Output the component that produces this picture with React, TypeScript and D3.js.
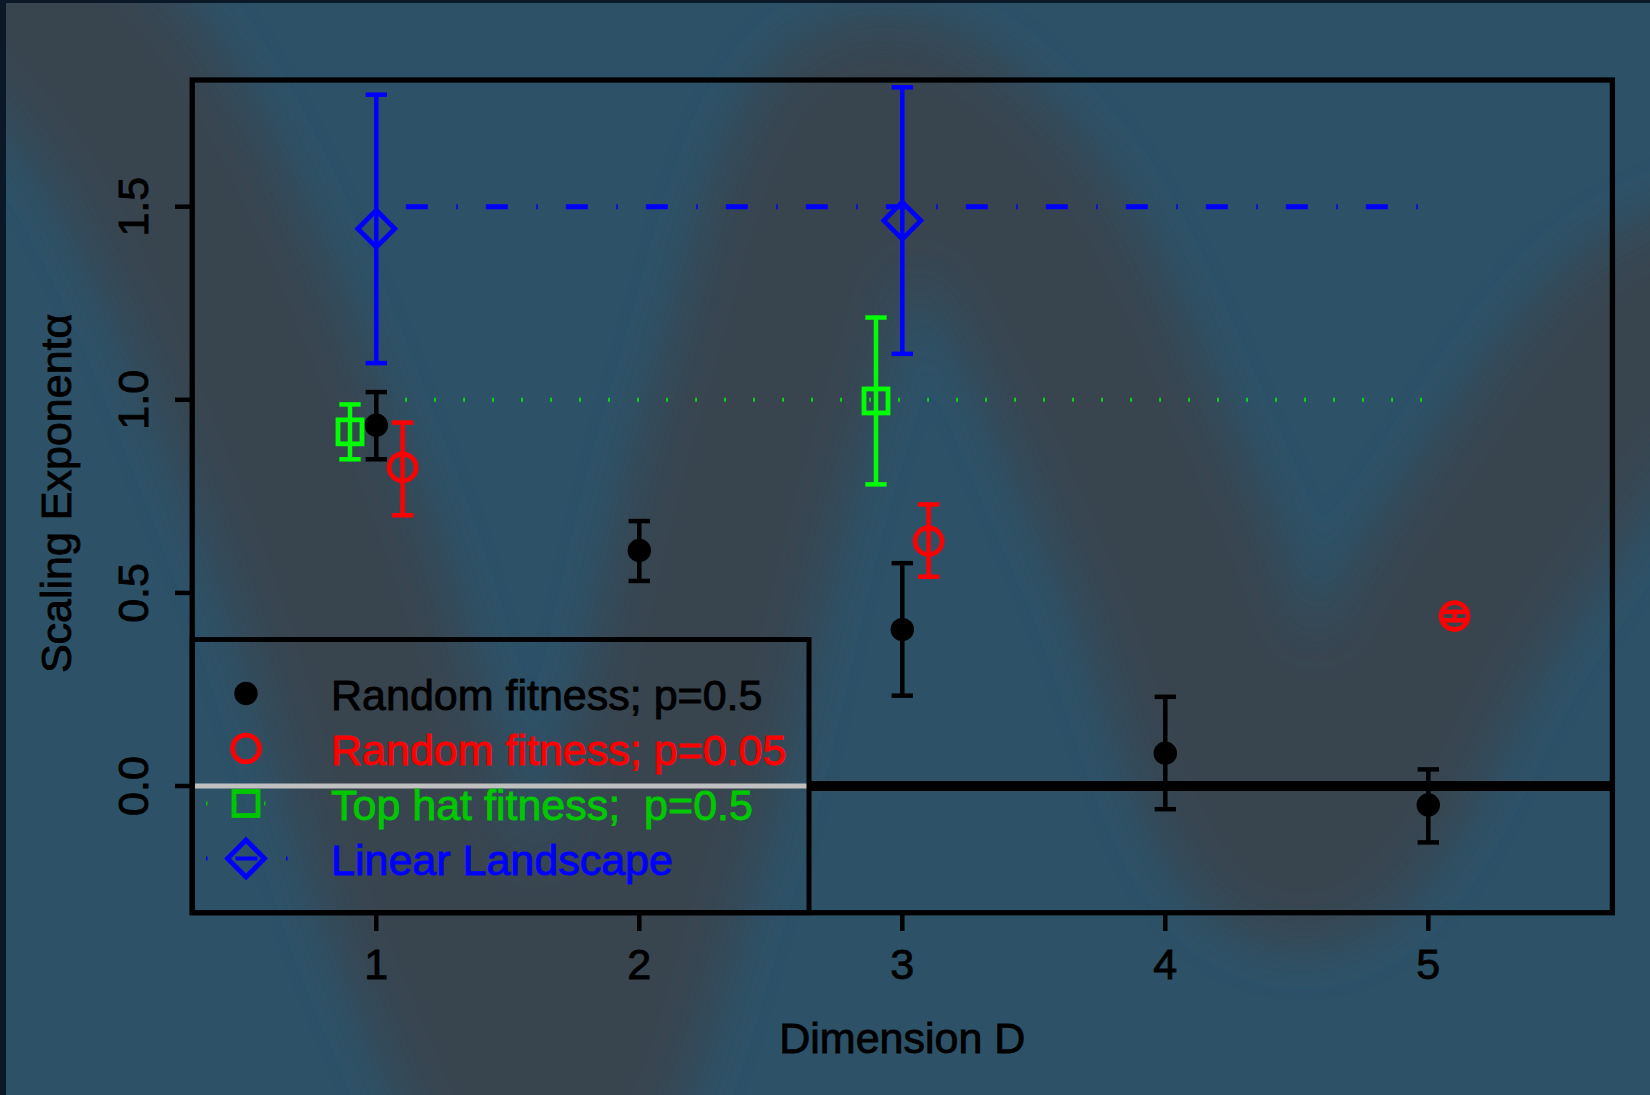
import React from 'react';
import * as d3 from 'd3';

const W = 1650;
const H = 1095;

// x axis ticks (Dimension D) and y axis ticks
const dimTicks = [1, 2, 3, 4, 5];
const alphaTicks = [0, 0.5, 1.0, 1.5];

// Random fitness; p=0.5
const randomX = [1, 2, 3, 4, 5];
const randomY = [0.934, 0.61, 0.405, 0.085, -0.049];
const randomLo = [0.846, 0.531, 0.234, -0.06, -0.146];
const randomHi = [1.02, 0.686, 0.577, 0.231, 0.043];

// Random fitness; p=0.05
const sparseX = [1.1, 3.1, 5.1];
const sparseY = [0.825, 0.634, 0.44];
const sparseLo = [0.701, 0.542, 0.429];
const sparseHi = [0.941, 0.729, 0.451];

// Top hat fitness; p=0.5
const topHatX = [0.9, 2.9];
const topHatY = [0.917, 0.997];
const topHatLo = [0.846, 0.781];
const topHatHi = [0.988, 1.213];

// Linear Landscape
const linearX = [1, 3];
const linearY = [1.443, 1.464];
const linearLo = [1.095, 1.119];
const linearHi = [1.79, 1.809];

// theoretical reference levels, drawn from D=1 to D=5
const refSpan = [1, 5];
const topHatRef = 1.0;
const linearRef = 1.5;

const legendLabels = [
  'Random fitness; p=0.5',
  'Random fitness; p=0.05',
  'Top hat fitness;  p=0.5',
  'Linear Landscape',
];

const FONT = '"Liberation Sans", Arial, Helvetica, sans-serif';
const GREEN = '#00ff00';
const LEGEND_GREEN = '#00c800';

// blurred wave behind the plot (decoration only)
const wave: [number, number][] = [
  [-53, -84], [126, 105], [316, 526], [452, 947], [547, 1115], [652, 842],
  [758, 421], [873, 126], [1000, 210], [1158, 526], [1300, 840], [1470, 580],
  [1650, 340], [1736, 300],
];

type Shape = 'dot' | 'circle' | 'square' | 'diamond';

function Marker({ shape, cx, cy, color }: { shape: Shape; cx: number; cy: number; color: string }) {
  if (shape === 'dot') return <circle cx={cx} cy={cy} r={11.7} fill={color} />;
  if (shape === 'circle')
    return <circle cx={cx} cy={cy} r={13.4} fill="none" stroke={color} strokeWidth={4.8} />;
  if (shape === 'square')
    return <rect x={cx - 12} y={cy - 12} width={24} height={24} fill="none" stroke={color} strokeWidth={4.8} />;
  const d = 18.5;
  return (
    <path
      d={`M${cx},${cy - d}L${cx + d},${cy}L${cx},${cy + d}L${cx - d},${cy}Z`}
      fill="none"
      stroke={color}
      strokeWidth={4.8}
    />
  );
}

export default function App() {
  const x = d3.scaleLinear().domain([0.3, 5.7]).range([192.2, 1612.4]);
  const y = d3.scaleLinear().domain([-0.328, 1.828]).range([912.7, 80]);

  const series = [
    { xs: randomX, ys: randomY, lo: randomLo, hi: randomHi, color: '#000000', shape: 'dot' as Shape },
    { xs: topHatX, ys: topHatY, lo: topHatLo, hi: topHatHi, color: GREEN, shape: 'square' as Shape },
    { xs: sparseX, ys: sparseY, lo: sparseLo, hi: sparseHi, color: '#ff0000', shape: 'circle' as Shape },
    { xs: linearX, ys: linearY, lo: linearLo, hi: linearHi, color: '#0000ff', shape: 'diamond' as Shape },
  ];

  const wavePath = d3.line().curve(d3.curveCatmullRom.alpha(0.5))(wave) || '';

  const legend = { left: x(0.3), right: 809, top: 639.5, bottom: y(-0.328) };
  const legendRows = [
    { shape: 'dot' as Shape, color: '#000000', dash: null },
    { shape: 'circle' as Shape, color: '#ff0000', dash: null },
    { shape: 'square' as Shape, color: LEGEND_GREEN, dash: '1.5 27.5' },
    { shape: 'diamond' as Shape, color: '#0000ff', dash: '1.5 28 22 28.5' },
  ];

  const txt = { fontFamily: FONT, fontSize: 43, strokeWidth: 0.9 };

  return (
    <div style={{ position: 'absolute', left: 0, top: 0 }}>
      <svg width={W} height={H} style={{ display: 'block' }}>
        <defs>
          <filter id="soft" x="-20%" y="-20%" width="140%" height="140%">
            <feGaussianBlur stdDeviation={26} />
          </filter>
        </defs>
        <rect width={W} height={H} fill="#2d5268" />
        <path d={wavePath} fill="none" stroke="#37454f" strokeWidth={215} strokeLinecap="round" filter="url(#soft)" />
        <rect x={0} y={0} width={6} height={H} fill="#0a1828" />
        <rect x={0} y={0} width={W} height={3} fill="#0a1828" />

        {/* reference levels */}
        <line
          x1={x(refSpan[0])} x2={x(refSpan[1])} y1={y(linearRef)} y2={y(linearRef)}
          stroke="#0000ff" strokeWidth={5} strokeDasharray="1.5 28 22 28.5"
        />
        <line
          x1={x(refSpan[0])} x2={x(refSpan[1])} y1={y(topHatRef)} y2={y(topHatRef)}
          stroke={GREEN} strokeWidth={4} strokeDasharray="1.5 27.5"
        />

        {/* zero line: black outside legend, light grey inside */}
        <line x1={legend.right} x2={x(5.7)} y1={y(0)} y2={y(0)} stroke="#000" strokeWidth={10} />
        <line x1={legend.left + 2} x2={legend.right - 2} y1={y(0)} y2={y(0)} stroke="#c0c0c0" strokeWidth={5} />

        {/* error bars and points */}
        {series.map((s, si) => (
          <g key={si}>
            {s.xs.map((xv, i) => (
              <g key={i} stroke={s.color} strokeWidth={4.5}>
                <line x1={x(xv)} x2={x(xv)} y1={y(s.lo[i])} y2={y(s.hi[i])} />
                <line x1={x(xv) - 10.7} x2={x(xv) + 10.7} y1={y(s.lo[i])} y2={y(s.lo[i])} />
                <line x1={x(xv) - 10.7} x2={x(xv) + 10.7} y1={y(s.hi[i])} y2={y(s.hi[i])} />
              </g>
            ))}
            {s.xs.map((xv, i) => (
              <Marker key={'m' + i} shape={s.shape} cx={x(xv)} cy={y(s.ys[i])} color={s.color} />
            ))}
          </g>
        ))}

        {/* plot frame */}
        <rect
          x={x(0.3)} y={y(1.828)} width={x(5.7) - x(0.3)} height={y(-0.328) - y(1.828)}
          fill="none" stroke="#000" strokeWidth={5.3}
        />

        {/* x axis */}
        {dimTicks.map((t) => (
          <g key={t}>
            <line x1={x(t)} x2={x(t)} y1={y(-0.328)} y2={931} stroke="#000" strokeWidth={4.5} />
            <text x={x(t)} y={979} textAnchor="middle" {...txt} fill="#000" stroke="#000">
              {t}
            </text>
          </g>
        ))}
        <text x={(x(0.3) + x(5.7)) / 2} y={1052.5} textAnchor="middle" {...txt} fill="#000" stroke="#000">
          Dimension D
        </text>

        {/* y axis */}
        {alphaTicks.map((t) => (
          <g key={t}>
            <line x1={175} x2={x(0.3)} y1={y(t)} y2={y(t)} stroke="#000" strokeWidth={4.5} />
            <text
              transform={`translate(148,${y(t)}) rotate(-90)`}
              textAnchor="middle" {...txt} fill="#000" stroke="#000"
            >
              {d3.format('.1f')(t)}
            </text>
          </g>
        ))}
        <text
          transform={`translate(71,${(y(1.828) + y(-0.328)) / 2 - 3}) rotate(-90)`}
          textAnchor="middle" {...txt} fill="#000" stroke="#000"
        >
          Scaling Exponentα
        </text>

        {/* legend */}
        <rect
          x={legend.left} y={legend.top} width={legend.right - legend.left} height={legend.bottom - legend.top}
          fill="none" stroke="#000" strokeWidth={5}
        />
        {legendRows.map((r, i) => {
          const cy = 693.5 + i * 55;
          return (
            <g key={i}>
              {r.dash && (
                <line x1={206} x2={290} y1={cy} y2={cy} stroke={r.color} strokeWidth={4} strokeDasharray={r.dash} />
              )}
              <Marker shape={r.shape} cx={246} cy={cy} color={r.color} />
              <text x={331} y={cy + 16.5} {...txt} fill={r.color} stroke={r.color} style={{ whiteSpace: 'pre' }}>
                {legendLabels[i]}
              </text>
            </g>
          );
        })}
      </svg>
    </div>
  );
}
